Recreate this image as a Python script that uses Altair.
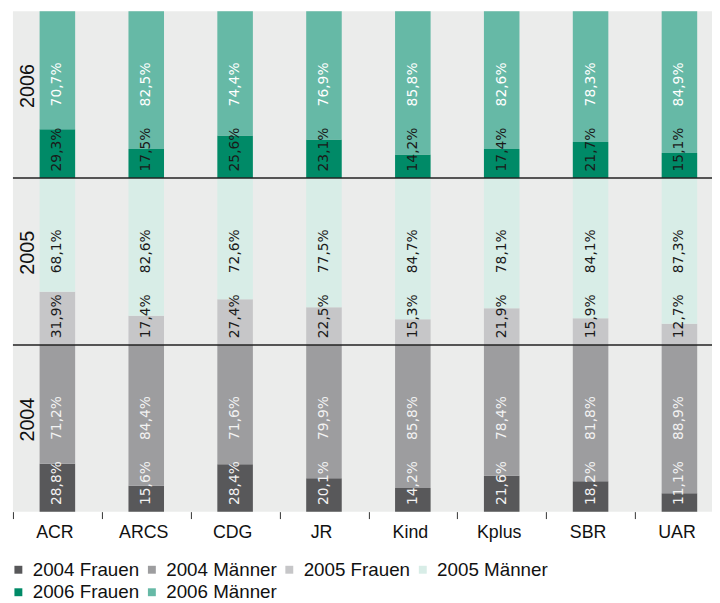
import altair as alt
import pandas as pd

categories = ["ACR", "ARCS", "CDG", "JR", "Kind", "Kplus", "SBR", "UAR"]
years = ["2004", "2005", "2006"]

frauen_2004 = [28.8, 15.6, 28.4, 20.1, 14.2, 21.6, 18.2, 11.1]
maenner_2004 = [71.2, 84.4, 71.6, 79.9, 85.8, 78.4, 81.8, 88.9]
frauen_2005 = [31.9, 17.4, 27.4, 22.5, 15.3, 21.9, 15.9, 12.7]
maenner_2005 = [68.1, 82.6, 72.6, 77.5, 84.7, 78.1, 84.1, 87.3]
frauen_2006 = [29.3, 17.5, 25.6, 23.1, 14.2, 17.4, 21.7, 15.1]
maenner_2006 = [70.7, 82.5, 74.4, 76.9, 85.8, 82.6, 78.3, 84.9]

series = ["2004 Frauen", "2004 Männer", "2005 Frauen", "2005 Männer", "2006 Frauen", "2006 Männer"]
bar_colors = ["#58585a", "#9d9d9f", "#c6c6c8", "#d8ede7", "#008a67", "#66b9a6"]
text_colors = ["#f2f2f2", "#f2f2f2", "#1a1a1a", "#1a1a1a", "#1a1a1a", "#ffffff"]

values = {
    "2004": (frauen_2004, maenner_2004),
    "2005": (frauen_2005, maenner_2005),
    "2006": (frauen_2006, maenner_2006),
}

SPAN = 100  # each year row spans 0..100 %


def fmt(v):
    return f"{v:.1f}".replace(".", ",") + "%"


rows = []
for yi, yr in enumerate(years):
    base = yi * SPAN
    fr, ma = values[yr]
    for c, f, m in zip(categories, fr, ma):
        rows.append({"cat": c, "series": f"{yr} Frauen", "y0": base, "y1": base + f,
                     "label": fmt(f), "ly": base + 4})
        rows.append({"cat": c, "series": f"{yr} Männer", "y0": base + f, "y1": base + f + m,
                     "label": fmt(m), "ly": base + 43})
df = pd.DataFrame(rows)

year_df = pd.DataFrame({"year": years, "base": [i * SPAN for i in range(len(years))]})
year_df["ly"] = year_df["base"] + 42
sep_df = year_df[year_df["base"] > 0]

x_enc = alt.X("cat:N", sort=categories,
              scale=alt.Scale(domain=categories, range=[0, 719], paddingInner=0, paddingOuter=0),
              axis=alt.Axis(title=None, labelAngle=0, domain=False, ticks=True, tickBand="extent",
                            tickSize=7, tickColor="#333333", tickWidth=1, labelFontSize=18,
                            labelFont="Liberation Sans", labelColor="#111111", labelPadding=5,
                            labelOffset=-3, grid=False))
y_scale = alt.Scale(domain=[0, 300], nice=False, zero=True)

bars = alt.Chart(df).mark_bar(width=alt.RelativeBandSize(0.4)).encode(
    x=x_enc,
    y=alt.Y("y0:Q", scale=y_scale, axis=None),
    y2="y1:Q",
    color=alt.Color("series:N", scale=alt.Scale(domain=series, range=bar_colors),
                    legend=alt.Legend(orient="none", legendX=-4, legendY=555, direction="horizontal",
                                      columns=4, symbolType="square", symbolSize=64,
                                      symbolStrokeWidth=0, labelFontSize=19,
                                      labelFont="Liberation Sans", labelColor="#111111",
                                      title=None, columnPadding=3, rowPadding=3, labelOffset=5,
                                      gridAlign="each")),
)

labels = alt.Chart(df).mark_text(angle=270, align="left", baseline="middle",
                                 font="DejaVu Sans", fontSize=14).encode(
    x=alt.X("cat:N", sort=categories),
    y=alt.Y("ly:Q", scale=y_scale, axis=None),
    text="label:N",
    color=alt.Color("series:N", scale=alt.Scale(domain=series, range=text_colors), legend=None),
)

seps = alt.Chart(sep_df).mark_rule(color="#222222", strokeWidth=1.5).encode(
    y=alt.Y("base:Q", scale=y_scale, axis=None),
)

year_labels = alt.Chart(year_df).mark_text(angle=270, align="left", baseline="middle",
                                           font="Liberation Sans", fontSize=20,
                                           color="#111111").encode(
    x=alt.value(15),
    y=alt.Y("ly:Q", scale=y_scale, axis=None),
    text="year:N",
)

chart = alt.layer(bars, labels, seps, year_labels).resolve_scale(color="independent").properties(
    width=707, height=506,
    background="white",
    autosize=alt.AutoSizeParams(type="none"),
    padding={"left": 5, "top": 0, "right": 0, "bottom": 89},
).configure_view(fill="#ebeceb", stroke=None)

chart.save("out.html", embed_options={"renderer": "svg", "actions": False})
